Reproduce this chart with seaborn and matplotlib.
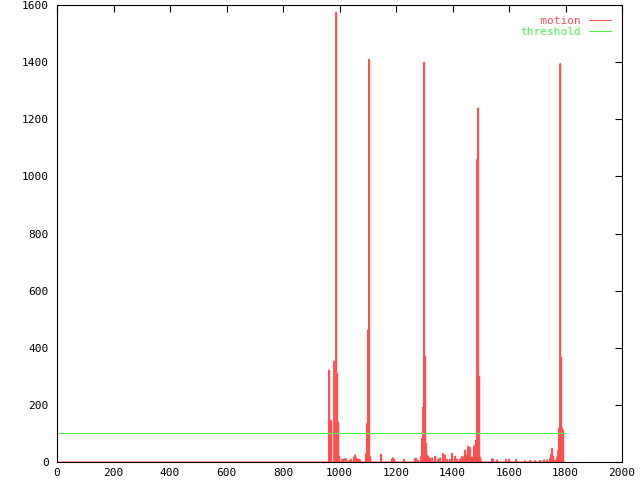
import numpy as np
import pandas as pd
import matplotlib
matplotlib.use("Agg")
import matplotlib.pyplot as plt
import seaborn as sns

# ---- data ----
n_frames = 1799
event_frames = [
    963, 966, 970, 981, 984, 988, 991, 995, 998,
    1009, 1016, 1023, 1034, 1041, 1051, 1055, 1058, 1062, 1069, 1073,
    1094, 1097, 1101, 1104, 1108,
    1147, 1186, 1189, 1193, 1228, 1267, 1271, 1278,
    1289, 1292, 1296, 1299, 1303, 1306, 1310, 1313, 1320, 1328,
    1338, 1349, 1356, 1366, 1374, 1381, 1391, 1398, 1409, 1416,
    1427, 1434, 1441, 1444, 1451, 1455, 1458, 1462, 1466, 1469,
    1476, 1480, 1483, 1487, 1490, 1494, 1497, 1501,
    1540, 1543, 1558, 1589, 1600, 1625, 1657, 1674, 1692, 1710,
    1724, 1735, 1745, 1749, 1752, 1756, 1759, 1766, 1770, 1774,
    1777, 1781, 1784, 1788, 1791,
]
event_values = [
    322, 50, 147, 354, 140, 1575, 310, 140, 20,
    10, 12, 12, 6, 10, 18, 25, 15, 10, 10, 8,
    30, 135, 462, 1410, 20,
    28, 12, 15, 10, 10, 12, 14, 6,
    21, 84, 193, 1400, 370, 66, 25, 20, 15, 15,
    20, 10, 15, 30, 25, 10, 10, 30, 20, 10,
    12, 20, 18, 42, 25, 56, 12, 51, 12, 18,
    56, 60, 77, 1060, 1240, 300, 18, 5,
    12, 10, 8, 10, 10, 10, 5, 6, 5, 6,
    8, 8, 13, 27, 49, 21, 7, 7, 18, 42,
    119, 1395, 368, 119, 112,
]
threshold_frames = [0, 1798]
threshold_values = [100, 100]
x_ticks = [0, 200, 400, 600, 800, 1000, 1200, 1400, 1600, 1800, 2000]
y_ticks = [0, 200, 400, 600, 800, 1000, 1200, 1400, 1600]

RED = "#ff5050"
GREEN = "#50f050"

sns.set_style("white")
plt.rcParams["font.family"] = ["DejaVu Sans Mono"]
plt.rcParams["font.size"] = 8

motion = np.zeros(n_frames)
motion[event_frames] = event_values
df = pd.DataFrame({"frame": np.arange(n_frames), "motion": motion})

fig = plt.figure(figsize=(6.4, 4.8), dpi=100)
ax = fig.add_axes([57 / 640, 18 / 480, 565 / 640, 457 / 480])

sns.lineplot(data=df, x="frame", y="motion", color=RED, lw=0.8, ax=ax,
             label="   motion")
ax.vlines(event_frames, 0, event_values, color=RED, lw=1.0)
sns.lineplot(x=threshold_frames, y=threshold_values, color=GREEN, lw=0.8,
             ax=ax, label="threshold")

ax.set_xlim(0, 2000)
ax.set_ylim(0, 1600)
ax.set_xticks(x_ticks)
ax.set_yticks(y_ticks)
ax.set_xlabel("")
ax.set_ylabel("")
ax.tick_params(direction="in", length=5, width=0.8, top=True, right=True,
               colors="black", labelsize=8)
ax.tick_params(axis="y", pad=6)
ax.tick_params(axis="x", pad=4)
for s in ax.spines.values():
    s.set_color("black")
    s.set_linewidth(0.8)

leg = ax.legend(loc="upper right", frameon=False, markerfirst=False,
                labelcolor="linecolor", handlelength=2.0, handletextpad=0.7,
                labelspacing=0.05, borderaxespad=0.6, fontsize=8)

fig.savefig("out.png", dpi=100)
